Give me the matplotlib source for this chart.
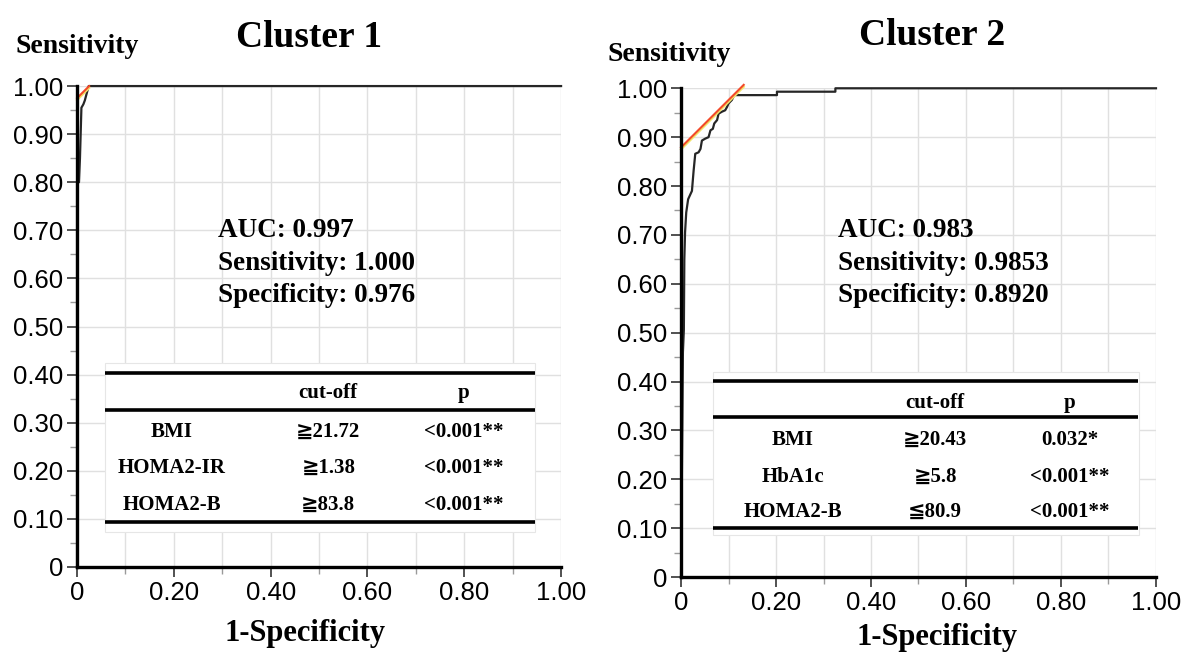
import matplotlib
matplotlib.use("Agg")
import matplotlib.pyplot as plt
from matplotlib.patches import Rectangle
from matplotlib.ticker import FixedLocator

# ---------------- data ----------------
c1_fpr = [0.0, 0.0, 0.004, 0.006, 0.009, 0.013, 0.016, 0.020, 0.024, 1.0]
c1_tpr = [0.0, 0.80, 0.80, 0.85, 0.955, 0.962, 0.970, 0.985, 1.0, 1.0]
c1_tangent_x = [0.0, 0.025]
c1_tangent_y = [0.975, 1.0]

c2_fpr = [0.0, 0.004, 0.006, 0.007, 0.0085, 0.011, 0.015, 0.023, 0.0265, 0.030,
          0.037, 0.041, 0.044, 0.051, 0.058, 0.062, 0.067, 0.070, 0.076, 0.079,
          0.086, 0.093, 0.097, 0.100, 0.107, 0.112, 0.202, 0.202, 0.325, 0.325, 1.0]
c2_tpr = [0.0, 0.46, 0.506, 0.65, 0.705, 0.746, 0.773, 0.79, 0.831, 0.866,
          0.869, 0.876, 0.893, 0.897, 0.90, 0.914, 0.917, 0.928, 0.935, 0.948,
          0.952, 0.955, 0.962, 0.969, 0.976, 0.986, 0.986, 0.993, 0.993, 1.0, 1.0]
c2_tangent_x = [0.0, 0.132]
c2_tangent_y = [0.879, 1.007]

titles = ["Cluster 1", "Cluster 2"]
stats1 = ["AUC: 0.997", "Sensitivity: 1.000", "Specificity: 0.976"]
stats2 = ["AUC: 0.983", "Sensitivity: 0.9853", "Specificity: 0.8920"]

table_header = ["", "cut-off", "p"]
table1_rows = [["BMI", "≧21.72", "<0.001**"],
               ["HOMA2-IR", "≧1.38", "<0.001**"],
               ["HOMA2-B", "≧83.8", "<0.001**"]]
table2_rows = [["BMI", "≧20.43", "0.032*"],
               ["HbA1c", "≧5.8", "<0.001**"],
               ["HOMA2-B", "≦80.9", "<0.001**"]]

y_ticks = [0, 0.1, 0.2, 0.3, 0.4, 0.5, 0.6, 0.7, 0.8, 0.9, 1.0]
y_ticklabels = ["0", "0.10", "0.20", "0.30", "0.40", "0.50", "0.60", "0.70", "0.80", "0.90", "1.00"]
x_ticks = [0, 0.2, 0.4, 0.6, 0.8, 1.0]
x_ticklabels = ["0", "0.20", "0.40", "0.60", "0.80", "1.00"]

# ---------------- style ----------------
SERIF = ["Liberation Serif", "DejaVu Serif", "DejaVu Sans", "Noto Sans CJK JP"]
SANS = ["Liberation Sans", "DejaVu Sans"]
plt.rcParams["font.family"] = SANS

fig = plt.figure(figsize=(11.91, 6.52), dpi=100)

panels = [
    dict(rect=[0.0647, 0.1304, 0.4064, 0.7376], fpr=c1_fpr, tpr=c1_tpr,
         tx=c1_tangent_x, ty=c1_tangent_y, stats=stats1, rows=table1_rows,
         stat_x=0.291, stat_y=[0.699, 0.632, 0.565],
         line_x=(0.058, 0.946), lines_y=[0.403, 0.326, 0.094],
         box=(0.058, 0.073, 0.888, 0.351),
         col_x=[0.196, 0.519, 0.798], hdr_y=0.362, row_y=[0.281, 0.206, 0.129],
         title_xy=(0.2594, 0.942), ylab_xy=(0.0126, 0.928), xlab_xy=(0.256, 0.029)),
    dict(rect=[0.5718, 0.115, 0.3988, 0.7496], fpr=c2_fpr, tpr=c2_tpr,
         tx=c2_tangent_x, ty=c2_tangent_y, stats=stats2, rows=table2_rows,
         stat_x=0.331, stat_y=[0.709, 0.641, 0.576],
         line_x=(0.067, 0.962), lines_y=[0.402, 0.328, 0.100],
         box=(0.067, 0.085, 0.897, 0.335),
         col_x=[0.236, 0.535, 0.819], hdr_y=0.357, row_y=[0.281, 0.205, 0.133],
         title_xy=(0.783, 0.946), ylab_xy=(0.5097, 0.916), xlab_xy=(0.787, 0.023)),
]

for i, p in enumerate(panels):
    ax = fig.add_axes(p["rect"])
    ax.set_xlim(0, 1.0)
    ax.set_ylim(0, 1.0)
    for s in ["top", "right"]:
        ax.spines[s].set_visible(False)
    for s in ["left", "bottom"]:
        ax.spines[s].set_linewidth(2.4)
        ax.spines[s].set_color("black")
        ax.spines[s].set_zorder(5)
    ax.set_axisbelow(True)

    ax.set_yticks(y_ticks)
    ax.set_yticklabels(y_ticklabels)
    ax.yaxis.set_minor_locator(FixedLocator([0.05 + 0.1 * k for k in range(10)]))
    ax.set_xticks(x_ticks)
    ax.set_xticklabels(x_ticklabels)
    ax.xaxis.set_minor_locator(FixedLocator([0.1, 0.3, 0.5, 0.7, 0.9]))
    ax.tick_params(axis="both", which="major", labelsize=18.5, length=7, width=1.2,
                   color="#333333", pad=3)
    ax.tick_params(axis="both", which="minor", length=5, width=1, color="#9a9a9a")

    ax.grid(True, which="major", color="#e0e0e0", linewidth=1.0)
    ax.xaxis.grid(True, which="minor", color="#e0e0e0", linewidth=1.0)

    # ROC curve
    ax.plot(p["fpr"], p["tpr"], color="#262626", linewidth=1.6, zorder=4, clip_on=False)
    # tangent line
    ax.plot(p["tx"], [v - 0.004 for v in p["ty"]], color="#f2e36a", linewidth=1.6,
            zorder=4, clip_on=False)
    ax.plot(p["tx"], p["ty"], color="#f24a2a", linewidth=1.5, zorder=4, clip_on=False)

    # statistics text
    for txt, yy in zip(p["stats"], p["stat_y"]):
        ax.text(p["stat_x"], yy, txt, family=SERIF, weight="bold", fontsize=19.5,
                ha="left", va="center", zorder=6)

    # table background
    bx, by, bw, bh = p["box"]
    ax.add_patch(Rectangle((bx, by), bw, bh, facecolor="white", edgecolor="#e6e6e6",
                           linewidth=0.8, zorder=3))
    x0, x1 = p["line_x"]
    for yy in p["lines_y"]:
        ax.plot([x0, x1], [yy, yy], color="black", linewidth=2.6, zorder=4,
                solid_capstyle="butt")
    for cx, h in zip(p["col_x"], table_header):
        if h:
            ax.text(cx, p["hdr_y"], h, family=SERIF, weight="bold", fontsize=15,
                    ha="center", va="center", zorder=6)
    for row, ry in zip(p["rows"], p["row_y"]):
        for cx, cell in zip(p["col_x"], row):
            ax.text(cx, ry, cell, family=SERIF, weight="bold", fontsize=15,
                    ha="center", va="center", zorder=6)

    fig.text(*p["title_xy"], titles[i], family=SERIF, weight="bold", fontsize=27,
             ha="center", va="center")
    fig.text(*p["ylab_xy"], "Sensitivity", family=SERIF, weight="bold", fontsize=20,
             ha="left", va="center")
    fig.text(*p["xlab_xy"], "1-Specificity", family=SERIF, weight="bold", fontsize=22,
             ha="center", va="center")

fig.savefig("out.png", dpi=100)
